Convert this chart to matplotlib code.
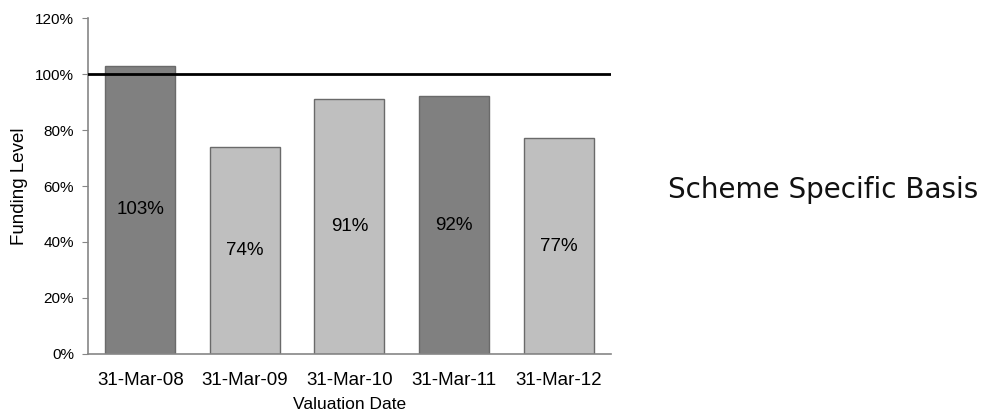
import matplotlib
matplotlib.use("Agg")
import matplotlib.pyplot as plt
from matplotlib.ticker import FuncFormatter

plt.rcParams['font.family'] = ['Liberation Sans', 'DejaVu Sans']

# data
dates = ["31-Mar-08", "31-Mar-09", "31-Mar-10", "31-Mar-11", "31-Mar-12"]
funding = [103, 74, 91, 92, 77]
bar_colors = ["#808080", "#BFBFBF", "#BFBFBF", "#808080", "#BFBFBF"]
target = 100

fig = plt.figure(figsize=(9.9, 4.12), dpi=100)
ax = fig.add_axes([0.089, 0.141, 0.528, 0.815])

x = range(len(dates))
bars = ax.bar(x, funding, width=0.67, color=bar_colors,
              edgecolor="#6A6A6A", linewidth=1.0, zorder=2)

for b, v in zip(bars, funding):
    ax.text(b.get_x() + b.get_width() / 2, v / 2, "%d%%" % v,
            ha='center', va='center', fontsize=13.5, color='black', zorder=3)

ax.axhline(target, color='black', linewidth=2, zorder=4)

ax.set_xlim(-0.5, len(dates) - 0.5)
ax.set_ylim(0, 120)
ax.set_yticks(range(0, 121, 20))
ax.yaxis.set_major_formatter(FuncFormatter(lambda v, p: "%d%%" % v))
ax.set_xticks(list(x))
ax.set_xticklabels(dates, fontsize=13.5)
ax.tick_params(axis='y', labelsize=11, length=4, color="#868686", pad=6)
ax.tick_params(axis='x', length=0, pad=13)

for s in ['top', 'right']:
    ax.spines[s].set_visible(False)
for s in ['left', 'bottom']:
    ax.spines[s].set_color("#868686")
    ax.spines[s].set_linewidth(1.2)

ax.set_xlabel("Valuation Date", fontsize=12.5, labelpad=6)
ax.set_ylabel("Funding Level", fontsize=13.5, labelpad=5)

fig.text(0.831, 0.54, "Scheme Specific Basis", ha='center', va='center',
         fontsize=20, color='#111111', family=['DejaVu Sans'])

fig.savefig("out.png", dpi=100)
